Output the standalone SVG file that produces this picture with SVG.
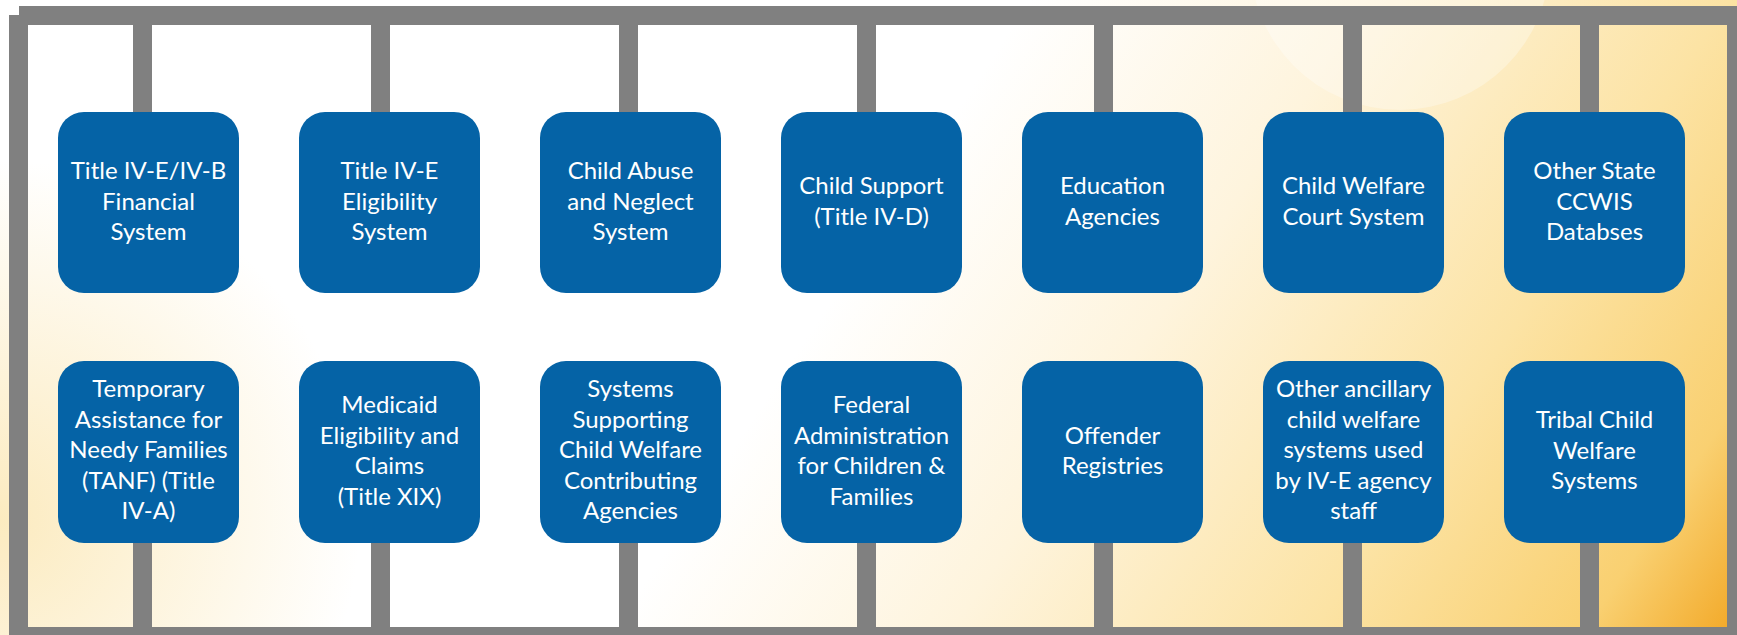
<svg xmlns="http://www.w3.org/2000/svg" width="1737" height="635" viewBox="0 0 1737 635">
<defs>
<linearGradient id="bg" gradientUnits="userSpaceOnUse" x1="950" y1="120" x2="1737" y2="640">
<stop offset="0" stop-color="#FFFFFF"/>
<stop offset="0.3" stop-color="#FEF4DD"/>
<stop offset="0.62" stop-color="#FCE3A4"/>
<stop offset="0.86" stop-color="#F9D071"/>
<stop offset="1" stop-color="#F2A623"/>
</linearGradient>
<radialGradient id="bl" gradientUnits="userSpaceOnUse" cx="0" cy="520" r="360">
<stop offset="0" stop-color="#FBE6B0" stop-opacity="0.8"/>
<stop offset="1" stop-color="#FBE6B0" stop-opacity="0"/>
</radialGradient>
<style>
.frame{fill:#808080}
.bar{fill:#808080}
.box{fill:#0563A6}
.lbl{fill:#FFFFFF;font-family:Lato,"Open Sans","Liberation Sans",sans-serif;font-size:24px;text-anchor:middle}
</style>
</defs>
<rect x="0" y="0" width="1737" height="635" fill="url(#bg)"/>
<rect x="0" y="0" width="1737" height="635" fill="url(#bl)"/>
<circle cx="1400" cy="-40" r="150" fill="#FFFFFF" opacity="0.3"/>
<g id="frame">
<rect class="frame" x="19" y="6" width="1718" height="19"/>
<rect class="frame" x="9" y="15" width="19" height="620"/>
<rect class="frame" x="1727" y="6" width="10" height="629"/>
<rect class="frame" x="9" y="627" width="1728" height="8"/>
</g>
<g id="connectors">
<rect class="bar" x="133" y="25" width="19" height="88"/>
<rect class="bar" x="371" y="25" width="19" height="88"/>
<rect class="bar" x="619" y="25" width="19" height="88"/>
<rect class="bar" x="857" y="25" width="19" height="88"/>
<rect class="bar" x="1094" y="25" width="19" height="88"/>
<rect class="bar" x="1343" y="25" width="19" height="88"/>
<rect class="bar" x="1580" y="25" width="19" height="88"/>
<rect class="bar" x="133" y="542" width="19" height="85"/>
<rect class="bar" x="371" y="542" width="19" height="85"/>
<rect class="bar" x="619" y="542" width="19" height="85"/>
<rect class="bar" x="857" y="542" width="19" height="85"/>
<rect class="bar" x="1094" y="542" width="19" height="85"/>
<rect class="bar" x="1343" y="542" width="19" height="85"/>
<rect class="bar" x="1580" y="542" width="19" height="85"/>
</g>
<g id="n1"><rect class="box" x="58" y="112" width="181" height="181" rx="26"/>
<text class="lbl"><tspan x="148.5" y="179">Title IV-E/IV-B</tspan><tspan x="148.5" y="209.5">Financial</tspan><tspan x="148.5" y="240">System</tspan></text></g>
<g id="n2"><rect class="box" x="299" y="112" width="181" height="181" rx="26"/>
<text class="lbl"><tspan x="389.5" y="179">Title IV-E</tspan><tspan x="389.5" y="209.5">Eligibility</tspan><tspan x="389.5" y="240">System</tspan></text></g>
<g id="n3"><rect class="box" x="540" y="112" width="181" height="181" rx="26"/>
<text class="lbl"><tspan x="630.5" y="179">Child Abuse</tspan><tspan x="630.5" y="209.5">and Neglect</tspan><tspan x="630.5" y="240">System</tspan></text></g>
<g id="n4"><rect class="box" x="781" y="112" width="181" height="181" rx="26"/>
<text class="lbl"><tspan x="871.5" y="194.25">Child Support</tspan><tspan x="871.5" y="224.75">(Title IV-D)</tspan></text></g>
<g id="n5"><rect class="box" x="1022" y="112" width="181" height="181" rx="26"/>
<text class="lbl"><tspan x="1112.5" y="194.25">Education</tspan><tspan x="1112.5" y="224.75">Agencies</tspan></text></g>
<g id="n6"><rect class="box" x="1263" y="112" width="181" height="181" rx="26"/>
<text class="lbl"><tspan x="1353.5" y="194.25">Child Welfare</tspan><tspan x="1353.5" y="224.75">Court System</tspan></text></g>
<g id="n7"><rect class="box" x="1504" y="112" width="181" height="181" rx="26"/>
<text class="lbl"><tspan x="1594.5" y="179">Other State</tspan><tspan x="1594.5" y="209.5">CCWIS</tspan><tspan x="1594.5" y="240">Databses</tspan></text></g>
<g id="n8"><rect class="box" x="58" y="361" width="181" height="182" rx="26"/>
<text class="lbl"><tspan x="148.5" y="397">Temporary</tspan><tspan x="148.5" y="427.5">Assistance for</tspan><tspan x="148.5" y="458">Needy Families</tspan><tspan x="148.5" y="488.5">(TANF) (Title</tspan><tspan x="148.5" y="519">IV-A)</tspan></text></g>
<g id="n9"><rect class="box" x="299" y="361" width="181" height="182" rx="26"/>
<text class="lbl"><tspan x="389.5" y="413.25">Medicaid</tspan><tspan x="389.5" y="443.75">Eligibility and</tspan><tspan x="389.5" y="474.25">Claims</tspan><tspan x="389.5" y="504.75">(Title XIX)</tspan></text></g>
<g id="n10"><rect class="box" x="540" y="361" width="181" height="182" rx="26"/>
<text class="lbl"><tspan x="630.5" y="397">Systems</tspan><tspan x="630.5" y="427.5">Supporting</tspan><tspan x="630.5" y="458">Child Welfare</tspan><tspan x="630.5" y="488.5">Contributing</tspan><tspan x="630.5" y="519">Agencies</tspan></text></g>
<g id="n11"><rect class="box" x="781" y="361" width="181" height="182" rx="26"/>
<text class="lbl"><tspan x="871.5" y="413.25">Federal</tspan><tspan x="871.5" y="443.75">Administration</tspan><tspan x="871.5" y="474.25">for Children &amp;</tspan><tspan x="871.5" y="504.75">Families</tspan></text></g>
<g id="n12"><rect class="box" x="1022" y="361" width="181" height="182" rx="26"/>
<text class="lbl"><tspan x="1112.5" y="443.75">Offender</tspan><tspan x="1112.5" y="474.25">Registries</tspan></text></g>
<g id="n13"><rect class="box" x="1263" y="361" width="181" height="182" rx="26"/>
<text class="lbl"><tspan x="1353.5" y="397">Other ancillary</tspan><tspan x="1353.5" y="427.5">child welfare</tspan><tspan x="1353.5" y="458">systems used</tspan><tspan x="1353.5" y="488.5">by IV-E agency</tspan><tspan x="1353.5" y="519">staff</tspan></text></g>
<g id="n14"><rect class="box" x="1504" y="361" width="181" height="182" rx="26"/>
<text class="lbl"><tspan x="1594.5" y="428">Tribal Child</tspan><tspan x="1594.5" y="458.5">Welfare</tspan><tspan x="1594.5" y="489">Systems</tspan></text></g>
</svg>
